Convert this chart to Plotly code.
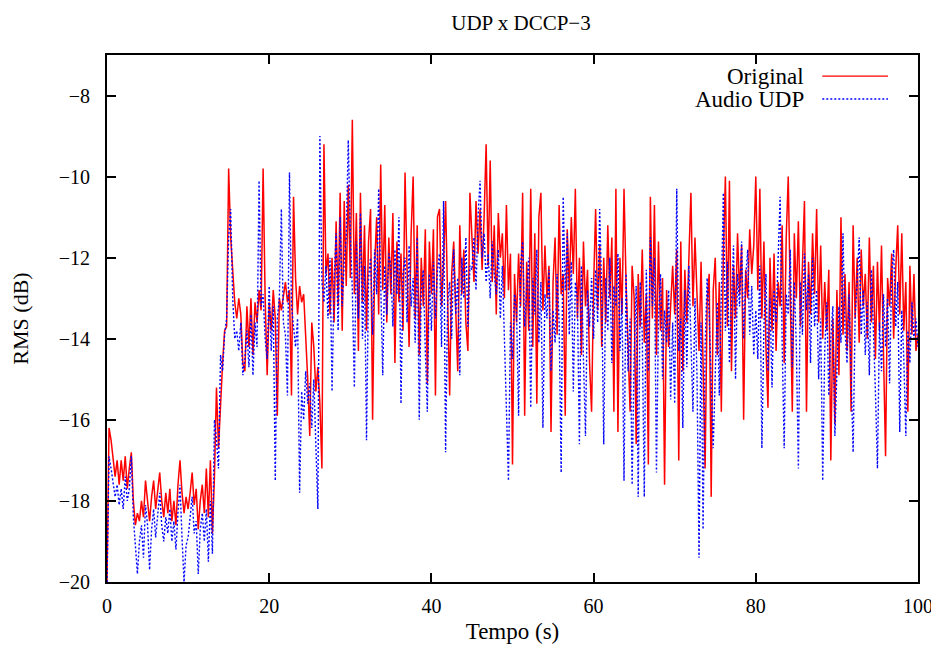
import plotly.graph_objects as go

STEP = 0.25  # sampling interval (s)

original = [
    -20.0, -16.2, -16.5, -16.9, -17.4, -17.0, -17.6, -17.0, -17.5, -16.9, -17.7, -17.2, -16.8, -18.0, -18.6, -18.3, -18.5, -18.0, -18.4, -17.5,
    -18.0, -18.5, -17.9, -17.5, -18.2, -17.8, -17.3, -18.0, -18.4, -17.8, -18.3, -17.7, -18.5, -18.0, -18.6, -17.6, -17.0, -17.8, -18.3, -17.9,
    -18.2, -17.8, -17.3, -18.1, -17.7, -18.7, -18.0, -17.6, -18.3, -17.2, -18.4, -17.0, -18.8, -17.4, -15.2, -16.7, -15.5, -14.6, -13.8, -13.7,
    -9.8, -11.5, -12.3, -13.1, -13.5, -13.0, -13.4, -14.6, -14.8, -13.2, -14.2, -13.0, -14.4, -13.1, -13.6, -12.8, -13.3, -9.8, -13.0, -14.9,
    -13.1, -13.8, -12.8, -13.5, -15.9, -13.0, -13.3, -12.9, -12.6, -13.1, -12.8, -15.4, -10.5, -12.5, -13.4, -12.7, -13.1, -12.9, -13.8, -15.0,
    -16.4, -13.6, -14.2, -15.3, -14.7, -15.6, -17.2, -9.2, -12.4, -11.9, -13.4, -12.0, -13.6, -11.1, -13.2, -10.4, -13.8, -10.6, -12.7, -10.2,
    -12.5, -8.6, -12.9, -10.9, -14.3, -10.4, -13.1, -11.2, -13.8, -11.6, -10.8, -16.0, -12.2, -11.0, -13.4, -9.7, -12.8, -10.7, -13.6, -11.5,
    -12.9, -10.9, -14.6, -11.6, -13.1, -11.9, -13.8, -9.9, -12.3, -14.2, -11.4, -10.0, -13.5, -11.2, -14.4, -12.0, -13.2, -11.3, -15.1, -11.6,
    -12.9, -11.3, -15.4, -11.0, -10.8, -13.2, -12.1, -10.6, -13.0, -15.4, -12.4, -11.6, -13.3, -14.8, -11.2, -12.9, -11.8, -13.6, -14.3, -10.4,
    -11.5, -12.6, -10.6, -11.9, -10.8, -12.3, -11.0, -9.2, -12.2, -9.6, -12.6, -11.2, -13.4, -10.9, -12.0, -11.4, -13.0, -10.7, -12.8, -11.9,
    -17.1, -12.4, -13.6, -11.9, -13.2, -10.4, -15.9, -12.1, -13.8, -10.3, -14.2, -11.4, -15.6, -11.0, -10.4, -13.3, -11.7, -13.0, -12.2, -16.3,
    -12.6, -11.5, -13.9, -10.7, -12.9, -12.4, -15.9, -11.3, -12.8, -11.0, -12.4, -10.3, -13.5, -12.0, -14.4, -11.6, -13.2, -12.3, -14.6, -15.8,
    -12.7, -10.8, -13.3, -11.7, -14.2, -12.0, -13.6, -11.2, -13.0, -11.5, -15.8, -10.3, -16.3, -12.0, -13.4, -10.3, -12.6, -14.0, -15.8, -12.2,
    -13.0, -16.6, -12.4, -13.7, -11.8, -14.1, -12.9, -17.1, -10.5, -13.5, -10.7, -14.4, -11.6, -13.8, -12.5, -17.6, -12.8, -14.2, -13.1, -12.2,
    -13.4, -11.8, -17.0, -11.6, -14.8, -12.3, -13.6, -12.0, -10.4, -13.2, -11.5, -12.9, -14.3, -12.1, -15.0, -17.2, -13.1, -12.4, -17.9, -12.8,
    -12.0, -14.4, -12.6, -15.8, -11.9, -10.0, -13.7, -10.1, -14.8, -12.2, -13.5, -11.4, -12.9, -11.7, -16.0, -12.3, -13.0, -11.3, -12.4, -11.7,
    -10.0, -12.8, -10.3, -13.5, -11.6, -14.2, -15.7, -12.0, -13.8, -11.9, -14.3, -12.6, -13.2, -11.2, -14.6, -11.5, -10.0, -12.9, -15.8, -11.4,
    -13.0, -11.1, -13.7, -12.2, -10.6, -15.8, -12.1, -13.4, -11.4, -12.9, -10.8, -13.6, -11.7, -14.0, -12.6, -13.8, -12.3, -17.0, -13.5, -16.1,
    -12.8, -14.9, -11.0, -13.9, -12.4, -14.3, -12.6, -15.8, -11.2, -13.5, -12.0, -14.1, -11.8, -13.2, -12.4, -14.0, -11.5, -13.6, -12.2, -14.5,
    -12.1, -13.8, -11.7, -14.4, -16.9, -12.5, -13.2, -11.9, -14.0, -12.3, -11.2, -13.4, -11.4, -13.8, -12.6, -15.8, -12.2, -13.9, -12.4, -14.3,
    -13.9,
]

audio_udp = [
    -20.0, -16.9, -17.2, -17.5, -17.9, -17.6, -18.1, -17.7, -18.2, -17.4, -18.0, -17.7, -16.9, -18.4, -19.2, -19.8, -19.0, -18.6, -19.4, -18.1,
    -18.6, -19.7, -18.7, -18.2, -18.9, -18.3, -17.8, -18.6, -19.0, -18.4, -18.8, -18.2, -19.0, -18.5, -19.2, -18.3, -17.6, -18.9, -20.0, -19.1,
    -18.9, -18.4, -17.9, -18.8, -18.5, -19.8, -18.7, -18.3, -19.0, -18.2, -19.5, -18.0, -19.3, -16.0, -16.5, -17.2, -14.4, -14.8, -13.9, -13.5,
    -11.5, -10.8, -13.0, -14.0, -13.8, -14.3, -13.6, -14.9, -14.5, -13.8, -14.7, -13.4, -14.9, -13.6, -14.2, -10.1, -13.2, -12.9, -14.0, -14.5,
    -12.7, -14.3, -13.2, -17.5, -13.5, -13.0, -10.8, -13.6, -13.9, -15.4, -9.9, -13.2, -13.8, -14.2, -13.5, -17.8, -15.3, -16.0, -14.8, -15.6,
    -15.1, -16.2, -15.0, -16.8, -18.2, -9.0, -12.6, -13.1, -12.2, -13.5, -12.0, -15.3, -12.6, -11.4, -13.8, -11.0, -13.2, -12.1, -11.5, -9.1,
    -11.4, -12.8, -15.2, -11.6, -13.5, -10.9, -14.0, -12.2, -16.5, -12.5, -12.0, -13.9, -11.8, -12.9, -10.3, -12.6, -14.9, -12.2, -13.4, -11.9,
    -12.2, -13.7, -11.8, -12.9, -11.0, -15.6, -12.4, -12.0, -13.6, -11.7, -13.2, -12.5, -14.1, -11.5, -16.0, -12.8, -12.3, -14.3, -15.8, -12.4,
    -13.8, -12.1, -13.5, -12.3, -11.9, -14.2, -10.6, -16.8, -13.1, -12.6, -14.0, -11.8, -13.4, -12.5, -14.9, -12.0, -13.0, -11.5, -13.7, -12.2,
    -12.3, -11.5, -12.8, -11.0, -10.1, -12.0, -11.4, -12.6, -11.9, -13.0, -11.6, -12.4, -12.9, -11.8, -13.5, -12.2, -14.0, -15.2, -17.5, -13.6,
    -14.5, -12.9, -13.3, -15.9, -12.2, -11.6, -13.7, -12.8, -12.0, -15.7, -12.5, -13.4, -11.8, -14.1, -12.6, -16.2, -12.9, -13.5, -12.3, -14.8,
    -13.3, -14.1, -12.4, -13.6, -17.3, -10.5, -12.8, -11.4, -13.9, -12.1, -15.3, -12.6, -13.0, -16.6, -12.2, -14.5, -16.4, -12.8, -13.7, -12.5,
    -14.0, -12.3, -13.6, -10.8, -12.9, -16.6, -12.5, -13.8, -12.0, -14.6, -12.7, -13.2, -11.9, -14.3, -13.0, -17.5, -12.4, -14.8, -13.5, -17.6,
    -14.4, -12.7, -17.9, -12.6, -13.9, -17.9, -12.3, -14.8, -11.5, -13.2, -12.0, -17.3, -13.5, -12.4, -15.0, -13.3, -14.1, -12.8, -15.5, -13.6,
    -15.6, -10.3, -14.3, -13.5, -16.2, -12.8, -14.7, -12.2, -13.9, -15.8, -13.0, -14.9, -19.4, -13.6, -18.7, -14.2, -12.5, -13.4, -15.1, -16.7,
    -14.9, -13.1, -15.4, -12.6, -10.4, -13.8, -12.1, -14.6, -12.9, -11.7, -15.0, -12.4, -13.2, -11.6, -14.0, -12.5, -11.8, -13.9, -12.7, -14.4,
    -13.3, -14.5, -12.2, -16.7, -13.7, -12.4, -14.8, -13.0, -15.2, -12.8, -13.6, -11.9, -10.5, -14.1, -16.7, -12.9, -13.4, -11.8, -14.7, -12.6,
    -14.2, -17.2, -12.6, -13.9, -11.9, -13.3, -12.4, -14.6, -12.0, -13.7, -12.8, -15.0, -13.5, -17.5, -14.3, -13.1, -15.4, -14.0, -13.2, -16.4,
    -15.0, -13.2, -14.1, -11.4, -13.8, -14.6, -12.9, -15.2, -16.8, -13.4, -12.6, -11.5, -13.9, -12.8, -14.4, -13.1, -14.9, -12.3, -13.7, -15.3,
    -17.2, -13.6, -14.8, -12.9, -14.2, -13.0, -15.1, -12.4, -11.8, -13.7, -12.6, -16.3, -13.3, -14.5, -16.4, -13.8, -14.6, -13.1, -14.0, -13.5,
    -14.2,
]

time_s = [i * STEP for i in range(len(original))]

x_ticks = [0, 20, 40, 60, 80, 100]
y_ticks = [-8, -10, -12, -14, -16, -18, -20]

series_names = ["Original", "Audio UDP"]
series_colors = ["#ff0000", "#0000ff"]

FONT = "Liberation Serif, Times New Roman, serif"

fig = go.Figure()
fig.add_trace(go.Scatter(x=time_s, y=original, mode="lines", name=series_names[0],
                         line=dict(color=series_colors[0], width=1.5)))
fig.add_trace(go.Scatter(x=time_s, y=audio_udp, mode="lines", name=series_names[1],
                         line=dict(color=series_colors[1], width=1.4, dash="2px,2px")))

axis_common = dict(showline=True, linecolor="black", linewidth=2, mirror="ticks",
                   ticks="inside", ticklen=9, tickwidth=1.5, tickcolor="black",
                   showgrid=False, zeroline=False,
                   tickfont=dict(family=FONT, size=20, color="black"))

fig.update_layout(
    width=931, height=649,
    margin=dict(l=99, r=21, t=47, b=75, autoexpand=False),
    paper_bgcolor="white", plot_bgcolor="white",
    showlegend=False,
    title=dict(text="UDP x DCCP\u22123", x=0.551, xanchor="center", y=0.988, yanchor="top",
               pad=dict(t=0, b=0),
               font=dict(family=FONT, size=21, color="black")),
    xaxis=dict(range=[0, 100], tickvals=x_ticks, ticklabelstandoff=5,
               title=dict(text="Tempo (s)", font=dict(family=FONT, size=23, color="black"), standoff=7),
               **axis_common),
    yaxis=dict(range=[-20, -7], tickvals=y_ticks, ticklabelstandoff=11,
               title=dict(text="RMS (dB)", font=dict(family=FONT, size=22, color="black"), standoff=37),
               **axis_common),
)

# gnuplot-style key: label right-aligned, line sample to its right
key_y = [0.960, 0.9165]
for name, color, ky, dash in zip(series_names, series_colors, key_y, ["solid", "2px,2px"]):
    fig.add_annotation(x=0.862, y=ky, xref="paper", yref="paper", text=name, showarrow=False,
                       xanchor="right", yanchor="middle",
                       font=dict(family=FONT, size=23, color="black"))
    fig.add_shape(type="line", xref="paper", yref="paper", x0=0.882, x1=0.963, y0=ky, y1=ky,
                  line=dict(color=color, width=1.4, dash=dash))

fig.write_html("out.html")
